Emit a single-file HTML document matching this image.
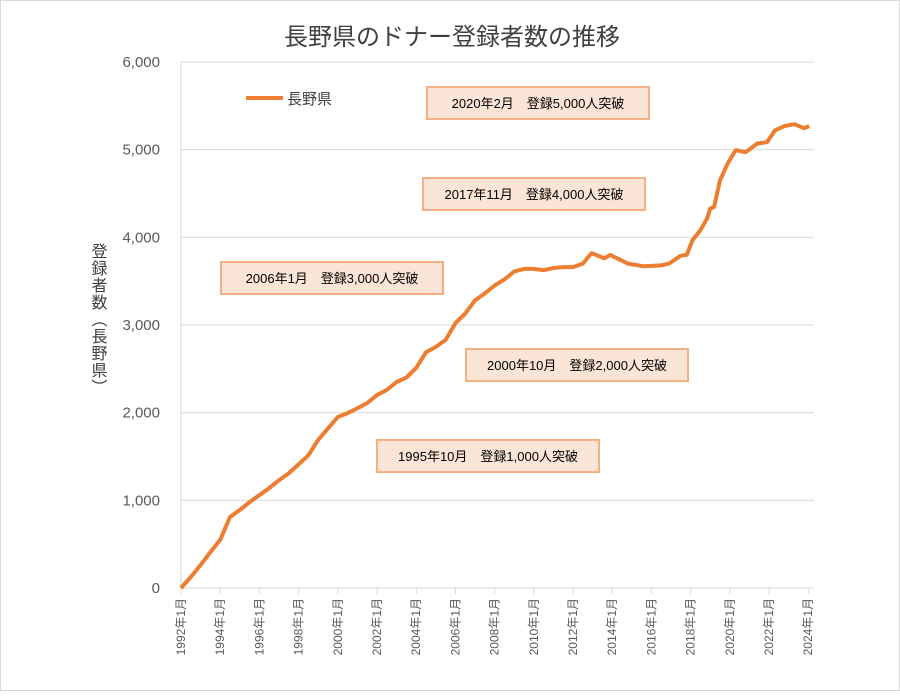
<!DOCTYPE html>
<html><head><meta charset="utf-8"><style>
body{margin:0;background:#fff;}
svg text{font-family:"Liberation Sans","Noto Sans CJK JP",sans-serif;}
</style></head><body>
<svg id="chart" width="900" height="691" xmlns="http://www.w3.org/2000/svg">
<rect x="0.5" y="0.5" width="899" height="690" fill="#fff" stroke="#d9d9d9"/>
<text x="452" y="45" font-size="24" text-anchor="middle" fill="#404040">長野県のドナー登録者数の推移</text>
<g id="grid"></g><g id="xaxis"></g><g id="yaxis"></g>
<text x="97" y="243" font-size="16" fill="#404040" style="writing-mode:tb;glyph-orientation-vertical:0" letter-spacing="1">登録者数（長野県）</text>
<g>
<line x1="246" y1="98" x2="283" y2="98" stroke="#ed7d31" stroke-width="4"/>
<text x="287" y="104" font-size="15" fill="#404040">長野県</text>
</g>
<g id="notes"></g>
<path id="line" fill="none" stroke="#ed7d31" stroke-width="4" stroke-linejoin="round"/>
</svg>
<script>
const years=[1992,1992.5,1993,1993.5,1994,1994.5,1995,1995.5,1996,1996.5,1997,1997.5,1998,1998.5,1999,1999.5,2000,2000.5,2001,2001.5,2002,2002.5,2003,2003.5,2004,2004.5,2005,2005.5,2006,2006.5,2007,2007.5,2008,2008.5,2009,2009.5,2010,2010.5,2011,2011.5,2012,2012.5,2012.95,2013.6,2013.9,2014.8,2015.6,2016.5,2016.9,2017.5,2017.8,2018.1,2018.5,2018.85,2019.0,2019.2,2019.5,2019.9,2020.3,2020.8,2021.4,2021.9,2022.3,2022.8,2023.3,2023.8,2024.05];
const values=[0,125,262,410,550,810,890,980,1060,1140,1230,1310,1410,1515,1690,1820,1950,1995,2050,2110,2200,2260,2350,2400,2510,2690,2750,2830,3020,3130,3280,3360,3450,3520,3610,3640,3640,3625,3650,3660,3660,3700,3820,3760,3800,3700,3670,3680,3700,3790,3800,3970,4080,4220,4330,4345,4650,4845,4995,4970,5070,5085,5220,5270,5290,5245,5270];
const yTicks=[0,1000,2000,3000,4000,5000,6000];
const yTickLabels=["0","1,000","2,000","3,000","4,000","5,000","6,000"];
const xTicks=[1992,1994,1996,1998,2000,2002,2004,2006,2008,2010,2012,2014,2016,2018,2020,2022,2024];
const noteTexts=["2020年2月　登録5,000人突破","2017年11月　登録4,000人突破","2006年1月　登録3,000人突破","2000年10月　登録2,000人突破","1995年10月　登録1,000人突破"];
const NS="http://www.w3.org/2000/svg";
const X=y=>181+(y-1992)*19.6;
const Y=v=>588-v*0.08767;
function mk(tag,at,parent){const e=document.createElementNS(NS,tag);for(const k in at)e.setAttribute(k,at[k]);parent.appendChild(e);return e;}
const grid=document.getElementById('grid'),ya=document.getElementById('yaxis'),xa=document.getElementById('xaxis');
yTicks.forEach((t,i)=>{
 if(t>0){const g=mk('line',{x1:181,x2:814,y1:Y(t),y2:Y(t),stroke:'#d9d9d9','stroke-width':1},grid);
 
 }
 const l=mk('text',{x:160,y:Y(t)+5,'font-size':15,'text-anchor':'end',fill:'#595959'},ya);
 l.textContent=yTickLabels[i];
 
 
});
const ax=mk('line',{x1:181,x2:181,y1:62,y2:588,stroke:'#d9d9d9'},grid);


const bx=mk('line',{x1:181,x2:814,y1:588,y2:588,stroke:'#d9d9d9'},grid);


xTicks.forEach(t=>{
 const x=X(t);
 const tk=mk('line',{x1:x,x2:x,y1:588,y2:594,stroke:'#d9d9d9'},xa);
 
 
 const l=mk('text',{x:0,y:0,'font-size':12,'text-anchor':'end',fill:'#595959',transform:`translate(${x+4},598) rotate(-90)`},xa);
 l.textContent=t+'年1月';
 
 
});
const boxes=[[427,87],[423,178],[221,262],[466,349],[377,440]];
const notes=document.getElementById('notes');
noteTexts.forEach((s,i)=>{
 const [bxx,byy]=boxes[i];
 const r=mk('rect',{x:bxx,y:byy,width:222,height:32,fill:'#fbe5d6',stroke:'#f4b183','stroke-width':2},notes);
 
 
 const t=mk('text',{x:bxx+111,y:byy+21,'font-size':13,'text-anchor':'middle',fill:'#000'},notes);
 t.textContent=s;
 
 
});
document.getElementById('line').setAttribute('d',years.map((y,i)=>(i?'L':'M')+X(y).toFixed(1)+','+Y(values[i]).toFixed(1)).join(''));
</script>
</body></html>
